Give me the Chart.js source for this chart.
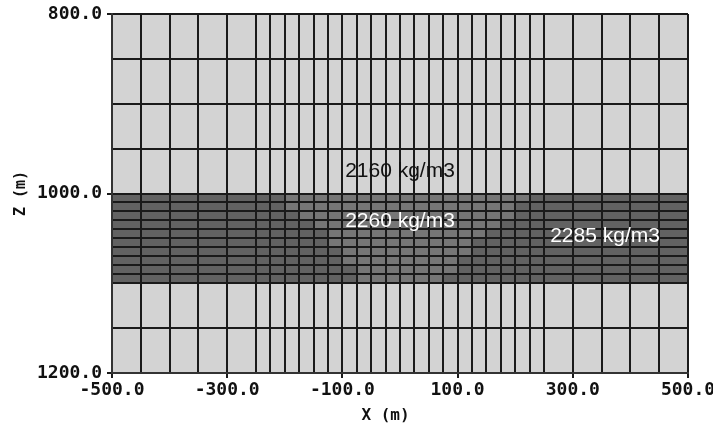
<!DOCTYPE html>
<html>
<head>
<meta charset="utf-8">
<script src="https://cdn.jsdelivr.net/npm/chart.js@4/dist/chart.umd.min.js"></script>
<style>
  html, body { margin: 0; padding: 0; background: #ffffff; }
  #wrap { width: 713px; height: 432px; }
</style>
</head>
<body>
<div id="wrap"><canvas id="meshChart"></canvas></div>
<script>
// Mesh line positions (m)
const xLines = [-500, -450, -400, -350, -300, -250, -225, -200, -175, -150, -125, -100, -75, -50, -25,
    0, 25, 50, 75, 100, 125, 150, 175, 200, 225, 250, 300, 350, 400, 450, 500];
const zLines = [800, 850, 900, 950, 1000, 1010, 1020, 1030, 1040, 1050, 1060, 1070, 1080, 1090, 1100, 1150, 1200];

// Which ticks get a label
const xTickLabels = [-500, -300, -100, 100, 300, 500];
const zTickLabels = [800, 1000, 1200];

// Layer between 1000 and 1100 m
const bandTop = 1000;
const bandBottom = 1100;

// Densities (kg/m3)
const densityHost = 2160;
const densityBand = 2285;
const densityLens = 2260;

// Lighter (2260) cells in each 10 m row of the band: [from x, to x]
const lensFrom = [-200, -200, -175, -150, -125, -125, -100, -100, -75, -75];
const lensTo = [225, 200, 200, 175, 150, 125, 125, 100, 100, 75];

// Annotations
const noteText = ['2160 kg/m3', '2260 kg/m3', '2285 kg/m3'];
const noteX = [0, 0, 356];
const noteZ = [975, 1031, 1048];
const noteColor = ['#111111', '#ffffff', '#ffffff'];

const densityColors = {};
densityColors[densityHost] = '#d3d3d3';
densityColors[densityBand] = '#626262';
densityColors[densityLens] = '#767676';

// Paint the cells under the grid lines
const cellFill = {
    id: 'cellFill',
    beforeDraw(chart) {
        const ctx = chart.ctx;
        const x = chart.scales.x, y = chart.scales.y;
        const rect = (x0, x1, z0, z1, color) => {
            const px0 = x.getPixelForValue(x0), px1 = x.getPixelForValue(x1);
            const py0 = y.getPixelForValue(z0), py1 = y.getPixelForValue(z1);
            ctx.fillStyle = color;
            ctx.fillRect(px0, py0, px1 - px0, py1 - py0);
        };
        ctx.save();
        rect(xLines[0], xLines[xLines.length - 1], zLines[0], zLines[zLines.length - 1], densityColors[densityHost]);
        rect(xLines[0], xLines[xLines.length - 1], bandTop, bandBottom, densityColors[densityBand]);
        const rows = zLines.filter(z => z >= bandTop && z <= bandBottom);
        for (let i = 0; i < rows.length - 1; i++) {
            rect(lensFrom[i], lensTo[i], rows[i], rows[i + 1], densityColors[densityLens]);
        }
        ctx.restore();
    }
};

// Density labels on top of everything
const notes = {
    id: 'notes',
    afterDraw(chart) {
        const ctx = chart.ctx;
        const x = chart.scales.x, y = chart.scales.y;
        ctx.save();
        ctx.font = '21px "Liberation Sans", Arial, sans-serif';
        ctx.textAlign = 'center';
        ctx.textBaseline = 'middle';
        noteText.forEach((t, i) => {
            ctx.fillStyle = noteColor[i];
            ctx.fillText(t, x.getPixelForValue(noteX[i]), y.getPixelForValue(noteZ[i]));
        });
        ctx.restore();
    }
};

const tickFont = { family: '"DejaVu Sans Mono", monospace', size: 18, weight: 'bold' };
const lineColor = '#1a1a1a';

new Chart(document.getElementById('meshChart'), {
    type: 'scatter',
    data: { datasets: [{ data: [] }] },
    options: {
        responsive: true,
        maintainAspectRatio: false,
        animation: false,
        layout: { padding: { top: 14, right: 25, left: 0, bottom: 0 } },
        plugins: { legend: { display: false }, tooltip: { enabled: false } },
        scales: {
            x: {
                type: 'linear',
                min: -500,
                max: 500,
                afterBuildTicks: scale => { scale.ticks = xLines.map(v => ({ value: v })); },
                afterFit: scale => { scale.height = 59; scale.paddingLeft = 0; scale.paddingRight = 0; },
                ticks: {
                    autoSkip: false,
                    maxRotation: 0,
                    minRotation: 0,
                    padding: 2,
                    color: '#111111',
                    font: tickFont,
                    callback: v => xTickLabels.includes(v) ? v.toFixed(1) : ''
                },
                grid: {
                    color: lineColor,
                    lineWidth: 2,
                    tickLength: 5,
                    tickColor: c => (c.tick && xTickLabels.includes(c.tick.value)) ? lineColor : 'rgba(0,0,0,0)'
                },
                border: { color: '#333333', width: 2 },
                title: {
                    display: true,
                    text: 'X (m)   ',
                    color: '#111111',
                    font: { family: '"DejaVu Sans Mono", monospace', size: 16, weight: 'bold' },
                    padding: { top: 0, bottom: 7 }
                }
            },
            y: {
                type: 'linear',
                reverse: true,
                min: 800,
                max: 1200,
                afterBuildTicks: scale => { scale.ticks = zLines.map(v => ({ value: v })); },
                afterFit: scale => { scale.width = 112; scale.paddingTop = 0; scale.paddingBottom = 0; },
                ticks: {
                    autoSkip: false,
                    padding: 5,
                    color: '#111111',
                    font: tickFont,
                    callback: v => zTickLabels.includes(v) ? v.toFixed(1) : ''
                },
                grid: {
                    color: lineColor,
                    lineWidth: 2,
                    tickLength: 5,
                    tickColor: c => (c.tick && zTickLabels.includes(c.tick.value)) ? lineColor : 'rgba(0,0,0,0)'
                },
                border: { color: '#333333', width: 2 },
                title: {
                    display: true,
                    text: 'Z (m)',
                    color: '#111111',
                    font: { family: '"DejaVu Sans Mono", monospace', size: 15, weight: 'bold' },
                    padding: { top: 12, bottom: 0 }
                }
            }
        }
    },
    plugins: [cellFill, notes]
});
</script>
</body>
</html>
